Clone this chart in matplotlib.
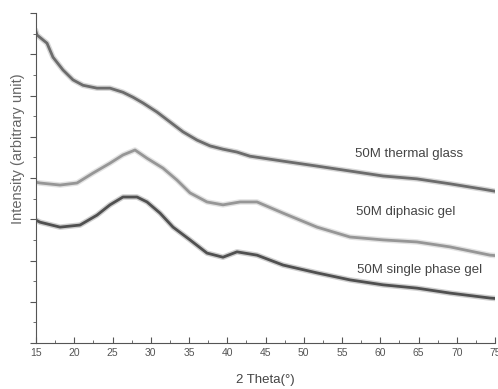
import matplotlib
matplotlib.use("Agg")
import matplotlib.pyplot as plt
from matplotlib.ticker import MultipleLocator

plt.rcParams['font.family'] = ['Liberation Sans', 'DejaVu Sans']

# values
theta_glass = [15.0, 15.13, 16.44, 17.22, 18.53, 19.84, 21.14, 22.97, 24.67, 26.37, 27.68,
               28.99, 30.82, 32.52, 34.22, 36.05, 37.75, 39.44, 41.27, 42.97, 47.29,
               51.73, 56.05, 60.36, 64.80, 69.12, 73.43, 75.0]
glass = [7.55, 7.47, 7.27, 6.93, 6.62, 6.38, 6.25, 6.18, 6.18, 6.08, 5.96,
         5.82, 5.60, 5.36, 5.12, 4.92, 4.78, 4.70, 4.63, 4.53, 4.41,
         4.29, 4.17, 4.05, 3.98, 3.86, 3.73, 3.68]

theta_diph = [15.0, 15.52, 18.14, 20.36, 22.45, 24.67, 26.37, 27.94, 29.51, 31.60, 33.43,
              35.13, 37.35, 39.44, 41.67, 43.89, 47.29, 51.73, 56.05, 60.36, 64.80,
              69.12, 74.35, 75.0]
diph = [3.90, 3.88, 3.83, 3.88, 4.12, 4.36, 4.56, 4.68, 4.48, 4.24, 3.95,
        3.64, 3.42, 3.35, 3.42, 3.42, 3.15, 2.81, 2.57, 2.50, 2.45,
        2.33, 2.13, 2.12]

theta_single = [15.0, 15.52, 18.14, 20.75, 22.97, 24.67, 26.37, 28.20, 29.51, 31.21, 32.91,
                35.13, 37.35, 39.44, 41.27, 43.89, 47.29, 51.73, 56.05, 60.36, 64.80,
                69.12, 74.35, 75.0]
single = [2.98, 2.93, 2.81, 2.86, 3.10, 3.35, 3.54, 3.54, 3.42, 3.15, 2.81,
          2.50, 2.18, 2.08, 2.21, 2.13, 1.89, 1.70, 1.53, 1.41, 1.33,
          1.21, 1.09, 1.08]

labels = ["50M thermal glass", "50M diphasic gel", "50M single phase gel"]
label_pos = [(56.7, 4.58), (56.8, 3.17), (56.9, 1.77)]
colors = ["#606060", "#8e8e8e", "#424242"]

fig = plt.figure(figsize=(4.98, 3.89), dpi=100)
ax = fig.add_axes([0.0723, 0.1183, 0.9217, 0.848])

for xs, ys, c in zip([theta_glass, theta_diph, theta_single], [glass, diph, single], colors):
    ax.plot(xs, ys, color=c, lw=4.0, alpha=0.25, solid_joinstyle="round")
    ax.plot(xs, ys, color=c, lw=2.0, alpha=0.9, solid_joinstyle="round")

for txt, (x, y) in zip(labels, label_pos):
    ax.text(x, y, txt, fontsize=9.5, color="#444444", va="center", ha="left")

ax.set_xlim(15, 75)
ax.set_ylim(0, 8)
ax.xaxis.set_major_locator(MultipleLocator(5))
ax.xaxis.set_minor_locator(MultipleLocator(2.5))
ax.yaxis.set_major_locator(MultipleLocator(1))
ax.yaxis.set_minor_locator(MultipleLocator(0.5))
ax.set_yticklabels([])
ax.tick_params(axis="x", which="both", direction="in", colors="#555555", labelsize=7.5)
ax.tick_params(axis="x", which="major", length=4)
ax.tick_params(axis="x", which="minor", length=2)
ax.tick_params(axis="y", which="both", direction="out", colors="#555555")
ax.tick_params(axis="y", which="major", length=4)
ax.tick_params(axis="y", which="minor", length=2)

for side in ["top", "right"]:
    ax.spines[side].set_visible(False)
for side in ["left", "bottom"]:
    ax.spines[side].set_color("#555555")

ax.set_xlabel("2 Theta(°)", fontsize=9.5, color="#444444")
ax.xaxis.set_label_coords(0.499, -0.094)
ax.set_ylabel("Intensity (arbitrary unit)", fontsize=10.5, color="#666666")
ax.yaxis.set_label_coords(-0.024, 0.59)

fig.savefig("out.png", dpi=100)
